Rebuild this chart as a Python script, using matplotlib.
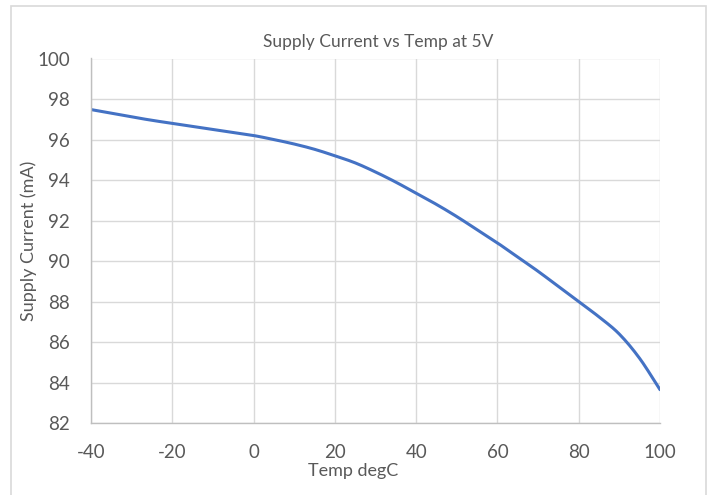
import matplotlib
matplotlib.use('Agg')
import numpy as np
import matplotlib.pyplot as plt
from matplotlib.patches import Rectangle

### data ###
temp_c = [-40, -35, -30, -25, -20, -15, -10, -5, 0, 5, 10, 15, 20, 25, 30, 35,
          40, 45, 50, 55, 60, 65, 70, 75, 80, 85, 90, 95, 100]
supply_ma = [97.48, 97.3, 97.12, 96.95, 96.8, 96.65, 96.5, 96.35, 96.2, 96.0,
             95.78, 95.52, 95.2, 94.85, 94.4, 93.9, 93.35, 92.8, 92.2, 91.55,
             90.9, 90.2, 89.5, 88.75, 88.0, 87.25, 86.4, 85.2, 83.66]
xticks = [-40, -20, 0, 20, 40, 60, 80, 100]
yticks = [82, 84, 86, 88, 90, 92, 94, 96, 98, 100]


### functions ###
def smooth_line(x, y, n=12):
    # catmull-rom drawing of the points, like excel's "smoothed line"
    x = np.asarray(x, float); y = np.asarray(y, float)
    px = np.concatenate([[2*x[0]-x[1]], x, [2*x[-1]-x[-2]]])
    py = np.concatenate([[2*y[0]-y[1]], y, [2*y[-1]-y[-2]]])
    t = np.linspace(0, 1, n, endpoint=False)
    xs, ys = [], []
    for i in range(1, len(px)-2):
        for p, out in ((px, xs), (py, ys)):
            p0, p1, p2, p3 = p[i-1], p[i], p[i+1], p[i+2]
            out.extend(0.5*((2*p1) + (-p0+p2)*t + (2*p0-5*p1+4*p2-p3)*t**2
                            + (-p0+3*p1-3*p2+p3)*t**3))
    xs.append(x[-1]); ys.append(y[-1])
    return xs, ys


plt.rcParams['font.family'] = ['Lato', 'DejaVu Sans']
plt.rcParams['axes.unicode_minus'] = False
txt = '#595959'

fig = plt.figure(figsize=(7.13, 4.95), dpi=100)
fig.patch.set_facecolor('white')
# outer chart border
fig.patches.append(Rectangle((11/713., -0.01), 695/713., 1 - 6/495. + 0.01,
                             transform=fig.transFigure, fill=False,
                             edgecolor='#D9D9D9', linewidth=1.2))

ax = fig.add_axes([91/713., 1 - 423.3/495., 569/713., 364.8/495.])
sx, sy = smooth_line(temp_c, supply_ma)
ax.plot(sx, sy, color='#4472C4', linewidth=2.2, solid_capstyle='round')

ax.set_xlim(-40, 100)
ax.set_ylim(82, 100)
ax.set_xticks(xticks)
ax.set_yticks(yticks)
ax.grid(True, color='#D9D9D9', linewidth=1.0)
ax.set_axisbelow(True)
for s in ['top', 'right']:
    ax.spines[s].set_visible(False)
for s in ['left', 'bottom']:
    ax.spines[s].set_color('#BFBFBF')
    ax.spines[s].set_linewidth(1.0)
ax.tick_params(length=0, labelsize=13.5, colors=txt)
ax.tick_params(axis='y', pad=15)
ax.tick_params(axis='x', pad=15)

ax.set_xlabel('Temp degC', fontsize=13, color=txt)
ax.xaxis.set_label_coords(262/569., -40/364.8)
ax.set_ylabel('Supply Current (mA)', fontsize=13, color=txt)
ax.yaxis.set_label_coords(-54/569., 0.5)
fig.text(378/713., 1 - 42/495., 'Supply Current vs Temp at 5V', fontsize=12.5,
         color=txt, ha='center', va='center')

fig.savefig('out.png', dpi=100)
